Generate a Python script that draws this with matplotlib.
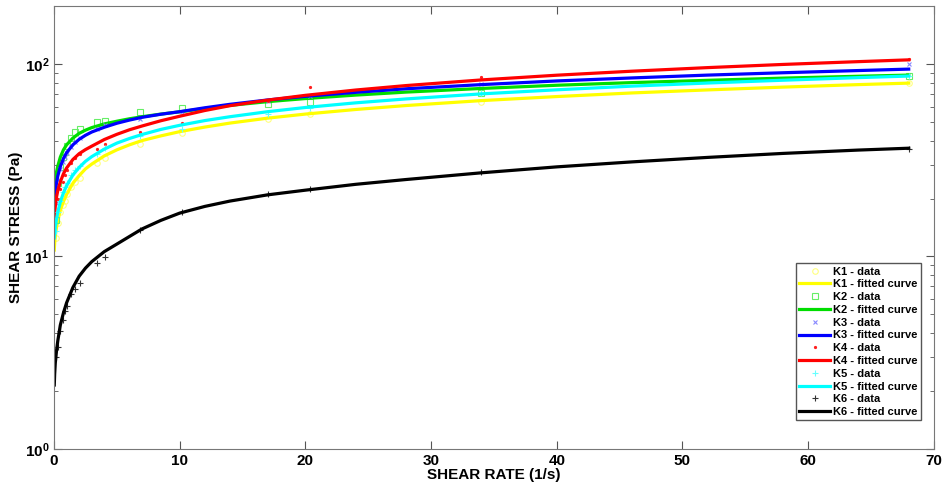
import matplotlib.pyplot as plt
import numpy as np

plt.rcParams['font.family'] = ['Liberation Sans Narrow', 'Liberation Sans', 'DejaVu Sans']
plt.rcParams['font.weight'] = 'bold'
plt.rcParams['mathtext.default'] = 'bf'

# measured points (shear rate in 1/s, shear stress in Pa)
shear_rate = [0.17, 0.34, 0.51, 0.68, 0.85, 1.02, 1.36, 1.7, 2.04, 3.4, 4.08, 6.8, 10.2, 17, 20.4, 34, 68]
k1_data = [12.5, 15, 17, 18.5, 19.5, 21, 23, 24.5, 25.5, 30.5, 32.5, 38.5, 44, 51.6, 54.8, 63.5, 79.5]
k2_data = [15.5, 24, 29.2, 33, 35, 37.6, 41.4, 44.2, 46.0, 49.8, 50.6, 56.3, 59.3, 62, 63.7, 70.7, 87]
k3_data = [19, 25, 28.5, 31, 33, 34.5, 37, 39.5, 41, 46, 48, 52, 56.5, 64, 68, 79, 99.5]
k4_data = [16.5, 20, 22.5, 24.5, 26.5, 28, 30.5, 32.5, 34, 36, 38.2, 44.2, 49.6, 64, 76.2, 86, 106]
k5_data = [13.5, 17, 19.5, 21.5, 23, 24, 26.5, 28, 29.5, 34, 36.5, 42.3, 45.8, 55, 59, 71, 87]
k6_data = [3.0, 3.4, 4.1, 4.7, 5.2, 5.5, 6.4, 6.8, 7.3, 9.2, 9.9, 13.8, 17.0, 21.0, 22.4, 27.6, 36.2]

# fitted curves
fit_rate = [0.02, 0.05, 0.1, 0.2, 0.3, 0.5, 0.75, 1, 1.5, 2, 2.5, 3, 4, 5, 6, 7, 8.5, 10,
            12, 14, 17, 20, 24, 28, 34, 40, 46, 52, 58, 64, 68]
k1_fit = [10.8, 11.7, 12.8, 14.2, 15.3, 17.4, 19.3, 21, 24, 26.3, 28.5, 30.2, 33.3, 35.8, 38, 40, 42.3, 44.5,
          47, 49.3, 52.3, 54.9, 58.0, 60.8, 64.5, 67.7, 70.7, 73.3, 75.8, 78.1, 79.5]
k2_fit = [21, 22.5, 24.5, 27.5, 29.5, 32.8, 35.8, 38, 41.2, 43.6, 45.3, 46.7, 48.8, 50.4, 51.9, 53.2, 54.9, 56.4,
          58.7, 60.9, 63.7, 66.1, 68.9, 71.4, 74.6, 77.5, 80.0, 82.2, 84.4, 86.3, 87.5]
k3_fit = [18, 19.5, 21.3, 24.2, 26.2, 29.3, 32.3, 34.6, 38, 40.6, 42.6, 44.3, 46.9, 49.2, 51.1, 52.8, 54.8, 56.5,
          59.2, 61.7, 65.0, 67.9, 71.2, 74.3, 78.1, 81.6, 84.6, 87.5, 90.0, 92.4, 94]
k4_fit = [15.5, 16.7, 18.2, 20.4, 22, 24.4, 26.9, 28.8, 31.9, 34.2, 35.9, 37.4, 40.5, 43.1, 45.5, 47.6, 50.7, 53.5,
          57.3, 60.7, 64.9, 68.7, 73.2, 77.2, 82.6, 87.4, 91.7, 95.7, 99.4, 102.8, 105]
k5_fit = [12.5, 13.2, 14.2, 15.7, 17, 19.2, 21.4, 23.3, 26.5, 29, 31.2, 33, 36.1, 38.8, 41, 43, 45.7, 48,
          50.8, 53.2, 56.5, 59.4, 62.8, 65.8, 69.9, 73.4, 76.7, 79.6, 82.3, 84.9, 86.5]
k6_fit = [2.15, 2.45, 2.8, 3.25, 3.65, 4.4, 5.1, 5.75, 6.9, 7.9, 8.7, 9.4, 10.6, 11.6, 12.7, 13.9, 15.4, 16.8,
          18.2, 19.4, 20.9, 22.1, 23.7, 25.1, 27.2, 29.2, 31.0, 32.7, 34.3, 35.7, 36.5]

names = ['K1', 'K2', 'K3', 'K4', 'K5', 'K6']
data = [k1_data, k2_data, k3_data, k4_data, k5_data, k6_data]
fits = [k1_fit, k2_fit, k3_fit, k4_fit, k5_fit, k6_fit]
line_colors = ['#ffff00', '#00dd00', '#0000ff', '#ff0000', '#00ffff', '#000000']
marker_colors = ['#ffff80', '#66ee66', '#8888ff', '#ff2020', '#66ffff', '#333333']
markers = ['o', 's', 'x', '.', '+', '+']
msizes = [4, 5, 3, 3, 4, 4]

fig = plt.figure(figsize=(9.43, 4.86), dpi=100)
ax = fig.add_axes([0.0573, 0.0761, 0.9330, 0.9116])

for i in range(6):
    ax.plot(shear_rate, data[i], linestyle='none', marker=markers[i], markersize=msizes[i],
            markerfacecolor='none' if markers[i] in ('o', 's') else marker_colors[i],
            markeredgecolor=marker_colors[i], markeredgewidth=0.8, label=f'{names[i]} - data')
    ax.plot(fit_rate, fits[i], color=line_colors[i], linewidth=2.3, label=f'{names[i]} - fitted curve')

ax.set_yscale('log')
ax.set_xlim(0, 70)
ax.set_ylim(1, 200)
ax.set_xticks(np.arange(0, 71, 10))
ax.tick_params(which='both', direction='in', top=True, right=True, colors='#555555',
               labelcolor='black', labelsize=11)
ax.tick_params(which='major', length=6)
ax.tick_params(which='minor', length=3)
for s in ax.spines.values():
    s.set_color('#777777')

ax.set_xlabel('SHEAR RATE (1/s)', fontsize=11, fontweight='bold', labelpad=0)
ax.set_ylabel('SHEAR STRESS (Pa)', fontsize=11, fontweight='bold', labelpad=1)

leg = ax.legend(loc='lower right', bbox_to_anchor=(0.992, 0.052), fontsize=8, handlelength=2.8,
                handletextpad=0.3, labelspacing=0.25, borderpad=0.3, fancybox=False,
                framealpha=1, edgecolor='#555555')
for t in leg.get_texts():
    t.set_fontweight('bold')

plt.savefig('out.png', dpi=100)
